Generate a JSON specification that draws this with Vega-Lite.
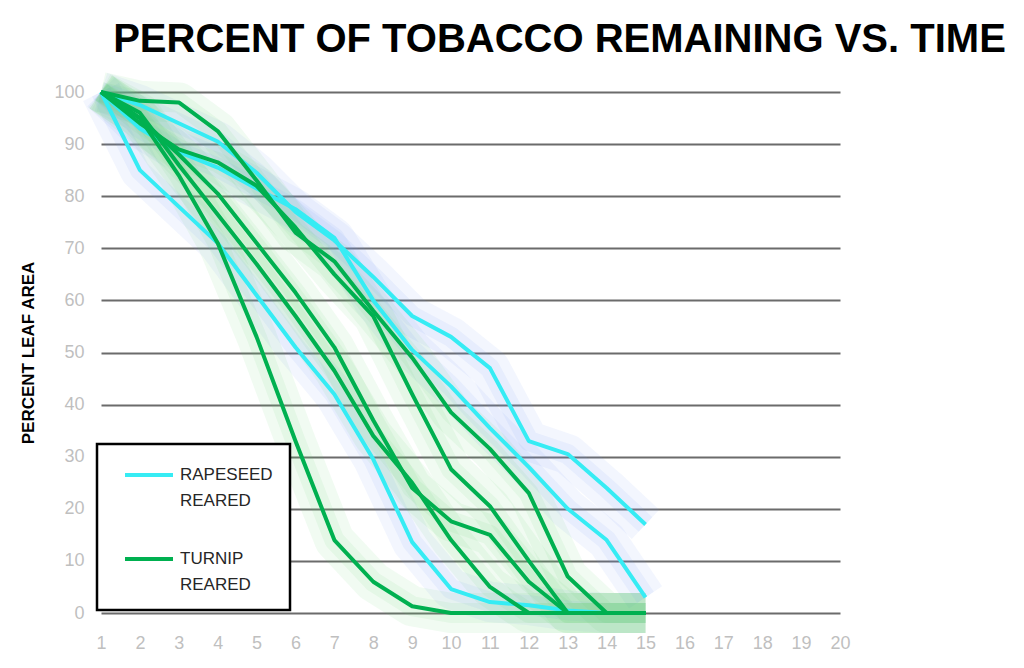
{
  "$schema": "https://vega.github.io/schema/vega-lite/v6.json",
  "width": 739,
  "height": 521,
  "autosize": "none",
  "padding": {"left": 101, "top": 92, "right": 184, "bottom": 55},
  "background": "white",
  "title": {
    "text": "PERCENT OF TOBACCO REMAINING VS. TIME",
    "font": "Liberation Sans, Arial, sans-serif",
    "fontSize": 40,
    "fontWeight": "bold",
    "color": "black",
    "anchor": "middle",
    "dx": 89,
    "offset": 12
  },
  "data": {"values": [
    {"s":"R1","g":"RAPESEED REARED","t":1,"v":100},{"s":"R1","g":"RAPESEED REARED","t":2,"v":97.5},{"s":"R1","g":"RAPESEED REARED","t":3,"v":94},{"s":"R1","g":"RAPESEED REARED","t":4,"v":90.5},{"s":"R1","g":"RAPESEED REARED","t":5,"v":84.5},{"s":"R1","g":"RAPESEED REARED","t":6,"v":77},{"s":"R1","g":"RAPESEED REARED","t":7,"v":71.5},{"s":"R1","g":"RAPESEED REARED","t":8,"v":64.5},{"s":"R1","g":"RAPESEED REARED","t":9,"v":57},{"s":"R1","g":"RAPESEED REARED","t":10,"v":53},{"s":"R1","g":"RAPESEED REARED","t":11,"v":47},{"s":"R1","g":"RAPESEED REARED","t":12,"v":33},{"s":"R1","g":"RAPESEED REARED","t":13,"v":30.5},{"s":"R1","g":"RAPESEED REARED","t":14,"v":24},{"s":"R1","g":"RAPESEED REARED","t":15,"v":17},
    {"s":"R2","g":"RAPESEED REARED","t":1,"v":100},{"s":"R2","g":"RAPESEED REARED","t":2,"v":85},{"s":"R2","g":"RAPESEED REARED","t":3,"v":78},{"s":"R2","g":"RAPESEED REARED","t":4,"v":71},{"s":"R2","g":"RAPESEED REARED","t":5,"v":61},{"s":"R2","g":"RAPESEED REARED","t":6,"v":51},{"s":"R2","g":"RAPESEED REARED","t":7,"v":42},{"s":"R2","g":"RAPESEED REARED","t":8,"v":29.5},{"s":"R2","g":"RAPESEED REARED","t":9,"v":13.6},{"s":"R2","g":"RAPESEED REARED","t":10,"v":4.6},{"s":"R2","g":"RAPESEED REARED","t":11,"v":2.1},{"s":"R2","g":"RAPESEED REARED","t":12,"v":1.5},{"s":"R2","g":"RAPESEED REARED","t":13,"v":0.5},{"s":"R2","g":"RAPESEED REARED","t":14,"v":0},{"s":"R2","g":"RAPESEED REARED","t":15,"v":0},
    {"s":"R3","g":"RAPESEED REARED","t":1,"v":100},{"s":"R3","g":"RAPESEED REARED","t":2,"v":93},{"s":"R3","g":"RAPESEED REARED","t":3,"v":88.5},{"s":"R3","g":"RAPESEED REARED","t":4,"v":85.5},{"s":"R3","g":"RAPESEED REARED","t":5,"v":81.5},{"s":"R3","g":"RAPESEED REARED","t":6,"v":77.5},{"s":"R3","g":"RAPESEED REARED","t":7,"v":72},{"s":"R3","g":"RAPESEED REARED","t":8,"v":60},{"s":"R3","g":"RAPESEED REARED","t":9,"v":50.5},{"s":"R3","g":"RAPESEED REARED","t":10,"v":43.5},{"s":"R3","g":"RAPESEED REARED","t":11,"v":35.5},{"s":"R3","g":"RAPESEED REARED","t":12,"v":28},{"s":"R3","g":"RAPESEED REARED","t":13,"v":20},{"s":"R3","g":"RAPESEED REARED","t":14,"v":14},{"s":"R3","g":"RAPESEED REARED","t":15,"v":3},
    {"s":"T1","g":"TURNIP REARED","t":1,"v":100},{"s":"T1","g":"TURNIP REARED","t":2,"v":95},{"s":"T1","g":"TURNIP REARED","t":3,"v":84},{"s":"T1","g":"TURNIP REARED","t":4,"v":71},{"s":"T1","g":"TURNIP REARED","t":5,"v":53},{"s":"T1","g":"TURNIP REARED","t":6,"v":33},{"s":"T1","g":"TURNIP REARED","t":7,"v":14},{"s":"T1","g":"TURNIP REARED","t":8,"v":6},{"s":"T1","g":"TURNIP REARED","t":9,"v":1.3},{"s":"T1","g":"TURNIP REARED","t":10,"v":0},{"s":"T1","g":"TURNIP REARED","t":11,"v":0},{"s":"T1","g":"TURNIP REARED","t":12,"v":0},{"s":"T1","g":"TURNIP REARED","t":13,"v":0},{"s":"T1","g":"TURNIP REARED","t":14,"v":0},{"s":"T1","g":"TURNIP REARED","t":15,"v":0},
    {"s":"T2","g":"TURNIP REARED","t":1,"v":100},{"s":"T2","g":"TURNIP REARED","t":2,"v":98.3},{"s":"T2","g":"TURNIP REARED","t":3,"v":98},{"s":"T2","g":"TURNIP REARED","t":4,"v":92.5},{"s":"T2","g":"TURNIP REARED","t":5,"v":83},{"s":"T2","g":"TURNIP REARED","t":6,"v":73},{"s":"T2","g":"TURNIP REARED","t":7,"v":67.5},{"s":"T2","g":"TURNIP REARED","t":8,"v":58},{"s":"T2","g":"TURNIP REARED","t":9,"v":49},{"s":"T2","g":"TURNIP REARED","t":10,"v":38.5},{"s":"T2","g":"TURNIP REARED","t":11,"v":31.5},{"s":"T2","g":"TURNIP REARED","t":12,"v":23},{"s":"T2","g":"TURNIP REARED","t":13,"v":7},{"s":"T2","g":"TURNIP REARED","t":14,"v":0},{"s":"T2","g":"TURNIP REARED","t":15,"v":0},
    {"s":"T3","g":"TURNIP REARED","t":1,"v":100},{"s":"T3","g":"TURNIP REARED","t":2,"v":94},{"s":"T3","g":"TURNIP REARED","t":3,"v":89},{"s":"T3","g":"TURNIP REARED","t":4,"v":86.5},{"s":"T3","g":"TURNIP REARED","t":5,"v":82},{"s":"T3","g":"TURNIP REARED","t":6,"v":74},{"s":"T3","g":"TURNIP REARED","t":7,"v":65},{"s":"T3","g":"TURNIP REARED","t":8,"v":57},{"s":"T3","g":"TURNIP REARED","t":9,"v":42},{"s":"T3","g":"TURNIP REARED","t":10,"v":27.6},{"s":"T3","g":"TURNIP REARED","t":11,"v":20.5},{"s":"T3","g":"TURNIP REARED","t":12,"v":10},{"s":"T3","g":"TURNIP REARED","t":13,"v":0},{"s":"T3","g":"TURNIP REARED","t":14,"v":0},{"s":"T3","g":"TURNIP REARED","t":15,"v":0},
    {"s":"T4","g":"TURNIP REARED","t":1,"v":100},{"s":"T4","g":"TURNIP REARED","t":2,"v":95},{"s":"T4","g":"TURNIP REARED","t":3,"v":88},{"s":"T4","g":"TURNIP REARED","t":4,"v":80.5},{"s":"T4","g":"TURNIP REARED","t":5,"v":71},{"s":"T4","g":"TURNIP REARED","t":6,"v":61.5},{"s":"T4","g":"TURNIP REARED","t":7,"v":51},{"s":"T4","g":"TURNIP REARED","t":8,"v":37},{"s":"T4","g":"TURNIP REARED","t":9,"v":24},{"s":"T4","g":"TURNIP REARED","t":10,"v":17.6},{"s":"T4","g":"TURNIP REARED","t":11,"v":15},{"s":"T4","g":"TURNIP REARED","t":12,"v":6},{"s":"T4","g":"TURNIP REARED","t":13,"v":0},{"s":"T4","g":"TURNIP REARED","t":14,"v":0},{"s":"T4","g":"TURNIP REARED","t":15,"v":0},
    {"s":"T5","g":"TURNIP REARED","t":1,"v":100},{"s":"T5","g":"TURNIP REARED","t":2,"v":96},{"s":"T5","g":"TURNIP REARED","t":3,"v":86},{"s":"T5","g":"TURNIP REARED","t":4,"v":76.5},{"s":"T5","g":"TURNIP REARED","t":5,"v":67},{"s":"T5","g":"TURNIP REARED","t":6,"v":57},{"s":"T5","g":"TURNIP REARED","t":7,"v":46.5},{"s":"T5","g":"TURNIP REARED","t":8,"v":34},{"s":"T5","g":"TURNIP REARED","t":9,"v":25},{"s":"T5","g":"TURNIP REARED","t":10,"v":14},{"s":"T5","g":"TURNIP REARED","t":11,"v":5},{"s":"T5","g":"TURNIP REARED","t":12,"v":0},{"s":"T5","g":"TURNIP REARED","t":13,"v":0},{"s":"T5","g":"TURNIP REARED","t":14,"v":0},{"s":"T5","g":"TURNIP REARED","t":15,"v":0}
  ]},
  "encoding": {
    "x": {
      "field": "t", "type": "quantitative",
      "scale": {"domain": [1, 20], "nice": false, "zero": false},
      "axis": {
        "values": [1,2,3,4,5,6,7,8,9,10,11,12,13,14,15,16,17,18,19,20],
        "title": null, "grid": false, "domain": false, "ticks": false,
        "labelFlush": false, "labelOverlap": false,
        "labelColor": "#bfbfbf", "labelFontSize": 18, "labelPadding": 21,
        "labelFont": "Liberation Sans, Arial, sans-serif"
      }
    },
    "y": {
      "field": "v", "type": "quantitative",
      "scale": {"domain": [0, 100], "nice": false},
      "axis": {
        "values": [0,10,20,30,40,50,60,70,80,90,100],
        "title": "PERCENT LEAF  AREA",
        "titleFontSize": 17, "titleFontWeight": "bold", "titleColor": "black",
        "titleFont": "Liberation Sans, Arial, sans-serif",
        "titlePadding": 16,
        "domain": false, "ticks": false, "labelFlush": false,
        "gridColor": "#6b6b6b", "gridWidth": 1.8,
        "labelColor": "#bfbfbf", "labelFontSize": 18, "labelPadding": 17,
        "labelFont": "Liberation Sans, Arial, sans-serif"
      }
    },
    "detail": {"field": "s"}
  },
  "layer": [
    {
      "mark": {"type": "line", "strokeWidth": 40, "opacity": 0.085, "strokeCap": "butt", "strokeJoin": "round"},
      "encoding": {
        "color": {"field": "g", "type": "nominal", "legend": null,
          "scale": {"domain": ["RAPESEED REARED", "TURNIP REARED"], "range": ["#6f9cf0", "#5fd06a"]}}
      }
    },
    {
      "mark": {"type": "line", "strokeWidth": 20, "opacity": 0.09, "strokeCap": "butt", "strokeJoin": "round"},
      "encoding": {
        "color": {"field": "g", "type": "nominal", "legend": null,
          "scale": {"domain": ["RAPESEED REARED", "TURNIP REARED"], "range": ["#6f9cf0", "#5fd06a"]}}
      }
    },
    {
      "mark": {"type": "line", "strokeWidth": 4, "strokeJoin": "round"},
      "encoding": {
        "color": {"field": "g", "type": "nominal",
          "scale": {"domain": ["RAPESEED REARED", "TURNIP REARED"], "range": ["#36ecf4", "#00b050"]},
          "legend": {
            "orient": "none", "legendX": -4, "legendY": 352,
            "direction": "vertical", "title": null,
            "strokeColor": "black", "fillColor": "white", "padding": 17,
            "symbolType": "M-2,0H2", "symbolSize": 576, "symbolStrokeWidth": 4,
            "symbolOffset": 21,
            "labelFontSize": 17, "labelColor": "#262626", "labelLimit": 0,
            "labelFont": "Liberation Sans, Arial, sans-serif",
            "labelExpr": "split(datum.label, ' ')",
            "labelOffset": 17, "rowPadding": 36,
            "encode": {"labels": {"update": {"lineHeight": {"value": 26}}}}
          }
        }
      }
    }
  ],
  "resolve": {"scale": {"color": "independent"}},
  "config": {
    "view": {"stroke": null},
    "legend": {"strokeWidth": 2.5}
  }
}
